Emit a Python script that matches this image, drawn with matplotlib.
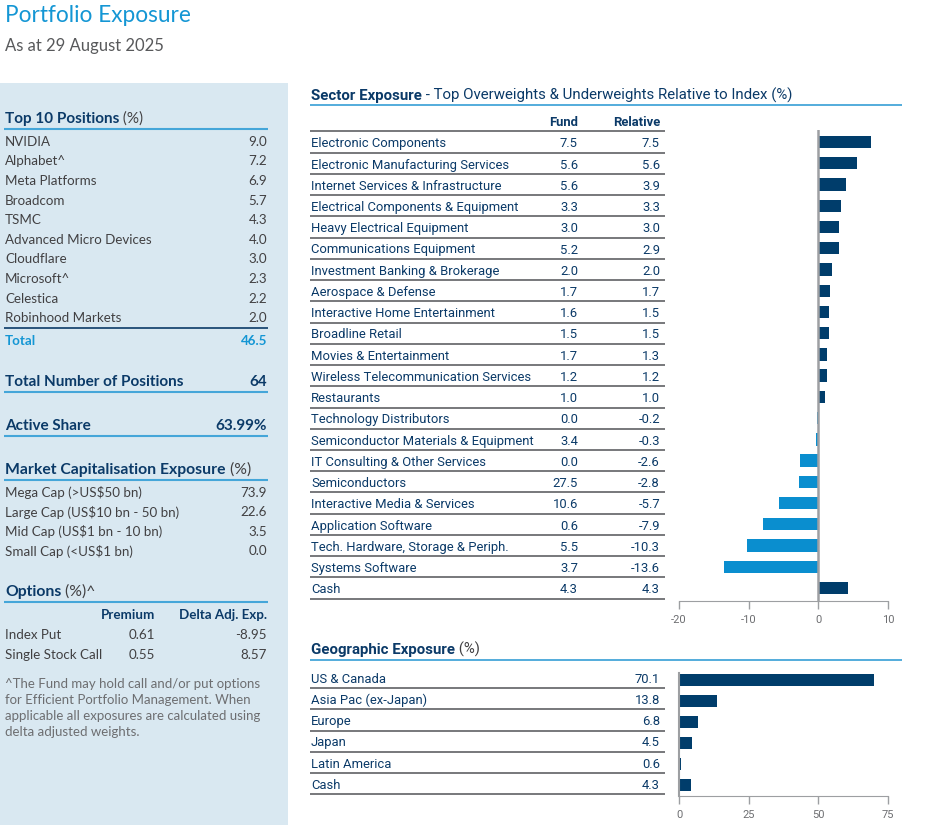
import numpy as np
import matplotlib
matplotlib.use("Agg")
from matplotlib import pyplot as plt
from matplotlib.patches import Rectangle

plt.rcParams["axes.unicode_minus"] = False

# ---- data ----
top10_names = ["NVIDIA", "Alphabet^", "Meta Platforms", "Broadcom", "TSMC",
               "Advanced Micro Devices", "Cloudflare", "Microsoft^", "Celestica",
               "Robinhood Markets"]
top10_values = ["9.0", "7.2", "6.9", "5.7", "4.3", "4.0", "3.0", "2.3", "2.2", "2.0"]
top10_total = "46.5"
num_positions = "64"
active_share = "63.99%"

mcap_labels = ["Mega Cap (>US$50 bn)", "Large Cap (US$10 bn - 50 bn)",
               "Mid Cap (US$1 bn - 10 bn)", "Small Cap (<US$1 bn)"]
mcap_values = ["73.9", "22.6", "3.5", "0.0"]

option_rows = ["Index Put", "Single Stock Call"]
option_premium = ["0.61", "0.55"]
option_delta = ["-8.95", "8.57"]

footnote = ["^The Fund may hold call and/or put options",
            "for Efficient Portfolio Management. When",
            "applicable all exposures are calculated using",
            "delta adjusted weights."]

sectors = ["Electronic Components", "Electronic Manufacturing Services",
           "Internet Services & Infrastructure", "Electrical Components & Equipment",
           "Heavy Electrical Equipment", "Communications Equipment",
           "Investment Banking & Brokerage", "Aerospace & Defense",
           "Interactive Home Entertainment", "Broadline Retail",
           "Movies & Entertainment", "Wireless Telecommunication Services",
           "Restaurants", "Technology Distributors",
           "Semiconductor Materials & Equipment", "IT Consulting & Other Services",
           "Semiconductors", "Interactive Media & Services", "Application Software",
           "Tech. Hardware, Storage & Periph.", "Systems Software", "Cash"]
sector_fund = [7.5, 5.6, 5.6, 3.3, 3.0, 5.2, 2.0, 1.7, 1.6, 1.5, 1.7, 1.2, 1.0,
               0.0, 3.4, 0.0, 27.5, 10.6, 0.6, 5.5, 3.7, 4.3]
sector_rel = [7.5, 5.6, 3.9, 3.3, 3.0, 2.9, 2.0, 1.7, 1.5, 1.5, 1.3, 1.2, 1.0,
              -0.2, -0.3, -2.6, -2.8, -5.7, -7.9, -10.3, -13.6, 4.3]

regions = ["US & Canada", "Asia Pac (ex-Japan)", "Europe", "Japan",
           "Latin America", "Cash"]
region_values = [70.1, 13.8, 6.8, 4.5, 0.6, 4.3]

# ---- style ----
BLUE = "#1496d4"
NAVY = "#0b3a68"
GREY = "#414042"
PANEL = "#d9e8f1"
LINE_BLUE = "#45a6d9"
SEP = "#77787b"
POS = "#003d6b"
NEG = "#0a8ecf"
AXIS = "#9d9fa2"
LEFT_FONT = "Lato"
RIGHT_FONT = "Roboto"
DY = 1.8  # nudge text down to sit like the original

W, H = 938, 825
fig = plt.figure(figsize=(W / 100, H / 100), dpi=100)
bg = fig.add_axes([0, 0, 1, 1])
bg.set_xlim(0, W)
bg.set_ylim(H, 0)
bg.axis("off")


def txt(x, y, s, size=9.6, color=GREY, weight="normal", ha="left", family=LEFT_FONT):
    return bg.text(x, y + DY, s, fontsize=size, color=color, fontweight=weight,
                   ha=ha, va="center", family=family)


def head(x, y, bold, rest, rest_color=GREY, size=11.2, family=LEFT_FONT):
    t = txt(x, y, bold, size=size, color=NAVY, weight="bold", family=family)
    bg.annotate(rest, xy=(1, 0), xycoords=t, va="bottom", ha="left",
                fontsize=size, color=rest_color, family=family)


def hline(y, x0, x1, color, lw=1.2):
    bg.plot([x0, x1], [y, y], color=color, lw=lw, solid_capstyle="butt")


# title
txt(5, 14, "Portfolio Exposure", size=16.3, color=BLUE)
txt(5, 44, "As at 29 August 2025", size=12, color="#58595b")

# left panel
bg.add_patch(Rectangle((0, 83), 288, H - 83, color=PANEL, lw=0))
LX, RX = 5, 267

head(LX, 117, "Top 10 Positions", " (%)", size=11)
hline(129, 4, 268, LINE_BLUE, 1.5)
for i, (n, v) in enumerate(zip(top10_names, top10_values)):
    y = 140 + 19.6 * i
    txt(LX, y, n)
    txt(RX, y, v, ha="right")
hline(328, 4, 268, NAVY, 1.2)
txt(LX, 339, "Total", color=BLUE, weight="bold")
txt(RX, 339, top10_total, color=BLUE, weight="bold", ha="right")

txt(LX, 380, "Total Number of Positions", size=11, color=NAVY, weight="bold")
txt(RX, 380, num_positions, size=11, color=NAVY, weight="bold", ha="right")
hline(392, 4, 268, LINE_BLUE, 1.5)

txt(LX, 424, "Active Share", size=11, color=NAVY, weight="bold")
txt(RX, 424, active_share, size=11, color=NAVY, weight="bold", ha="right")
hline(436, 4, 268, LINE_BLUE, 1.5)

head(LX, 468, "Market Capitalisation Exposure", " (%)", size=11.3)
hline(480, 4, 268, LINE_BLUE, 1.5)
for i, (n, v) in enumerate(zip(mcap_labels, mcap_values)):
    y = 491 + 19.5 * i
    txt(LX, y, n)
    txt(RX, y, v, ha="right")

head(LX, 590, "Options", " (%)^", size=11.3)
hline(602, 4, 268, LINE_BLUE, 1.5)
txt(155, 613, "Premium", color=NAVY, weight="bold", ha="right")
txt(RX, 613, "Delta Adj. Exp.", color=NAVY, weight="bold", ha="right")
for i, n in enumerate(option_rows):
    y = 633 + 20 * i
    txt(LX, y, n)
    txt(155, y, option_premium[i], ha="right")
    txt(RX, y, option_delta[i], ha="right")

for i, line in enumerate(footnote):
    txt(LX, 682 + 16 * i, line, size=9.5, color="#6d6e71")

# sector table
SX, FX, RLX = 311, 578, 660
TS = 9.4
head(SX, 94, "Sector Exposure",
     " - Top Overweights & Underweights Relative to Index (%)",
     rest_color=NAVY, size=10.8, family=RIGHT_FONT)
hline(105, 310, 902, LINE_BLUE, 1.3)
txt(FX, 121, "Fund", size=TS, color=NAVY, weight="bold", ha="right", family=RIGHT_FONT)
txt(RLX, 121, "Relative", size=TS, color=NAVY, weight="bold", ha="right", family=RIGHT_FONT)

pitch = 21.24
row0 = 142
hline(row0 - pitch / 2, 310, 665, SEP, 1.4)
for i, name in enumerate(sectors):
    y = row0 + pitch * i
    txt(SX, y, name, size=TS, color=NAVY, family=RIGHT_FONT)
    txt(FX, y, f"{sector_fund[i]:.1f}", size=TS, color=NAVY, ha="right", family=RIGHT_FONT)
    txt(RLX, y, f"{sector_rel[i]:.1f}", size=TS, color=NAVY, ha="right", family=RIGHT_FONT)
    hline(y + pitch / 2, 310, 665, SEP, 1.4)

# sector bars
ax_l, ax_r = 679, 888
ax_top, ax_bot = 130, 601
ax1 = fig.add_axes([ax_l / W, 1 - ax_bot / H, (ax_r - ax_l) / W, (ax_bot - ax_top) / H])
n = len(sectors)
ypos = np.arange(n)
cols = [POS if v >= 0 else NEG for v in sector_rel]
ax1.barh(ypos, sector_rel, height=0.58, color=cols)
ax1.set_xlim(-20, 10)
ax1.set_ylim(n - 1 + (ax_bot - (row0 + pitch * (n - 1))) / pitch, -(row0 - ax_top) / pitch)
ax1.axvline(0, color=AXIS, lw=1.8, zorder=3)
ax1.set_xticks([-20, -10, 0, 10])
ax1.set_yticks([])
for s in ["top", "right", "left"]:
    ax1.spines[s].set_visible(False)
ax1.spines["bottom"].set_color(AXIS)
ax1.tick_params(axis="x", colors=AXIS, length=6, width=1, labelsize=8,
                labelcolor="#6d6e71", pad=4)
for lab in ax1.get_xticklabels():
    lab.set_family(RIGHT_FONT)
ax1.patch.set_alpha(0)

# geographic table
gy0 = 677.5
gpitch = 21.2
head(SX, 648, "Geographic Exposure", " (%)", size=10.8, family=RIGHT_FONT)
hline(660, 310, 902, LINE_BLUE, 1.3)
for i, name in enumerate(regions):
    y = gy0 + gpitch * i
    txt(SX, y, name, size=TS, color=NAVY, family=RIGHT_FONT)
    txt(RLX, y, f"{region_values[i]:.1f}", size=TS, color=NAVY, ha="right", family=RIGHT_FONT)
    hline(y + gpitch / 2, 310, 665, SEP, 1.4)

g_top, g_bot = 673, 796
ax2 = fig.add_axes([ax_l / W, 1 - g_bot / H, (ax_r - ax_l) / W, (g_bot - g_top) / H])
m = len(regions)
ax2.barh(np.arange(m), region_values, height=0.6, color=POS)
ax2.set_xlim(0, 75)
ax2.set_ylim(m - 1 + (g_bot - (680 + 21 * (m - 1))) / 21, -(680 - g_top) / 21)
ax2.set_xticks([0, 25, 50, 75])
ax2.set_yticks([])
for s in ["top", "right"]:
    ax2.spines[s].set_visible(False)
ax2.spines["bottom"].set_color(AXIS)
ax2.spines["left"].set_color(AXIS)
ax2.spines["left"].set_linewidth(1.5)
ax2.tick_params(axis="x", colors=AXIS, length=6, width=1, labelsize=8,
                labelcolor="#6d6e71", pad=4)
for lab in ax2.get_xticklabels():
    lab.set_family(RIGHT_FONT)
ax2.patch.set_alpha(0)

fig.savefig("out.png", dpi=100)
